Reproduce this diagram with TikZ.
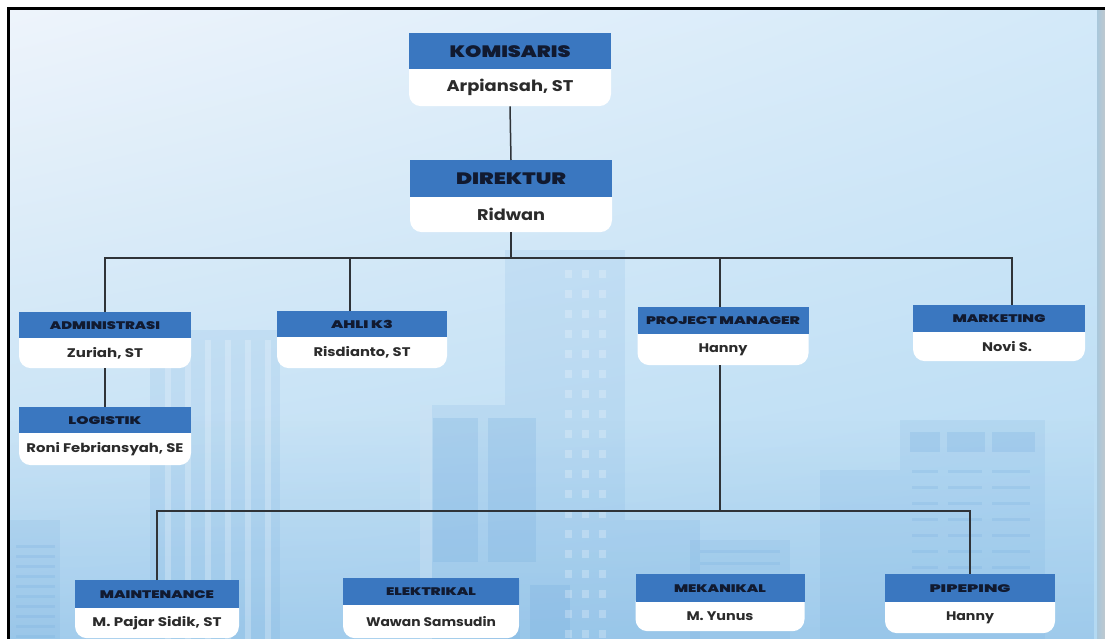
\documentclass[tikz,border=0pt]{standalone}
\usepackage{graphicx}
\usepackage{fontspec}
\usetikzlibrary{shadings,fadings}
\setmainfont{Poppins}
\newfontfamily\heavy{Poppins}[UprightFont=* Black]
\newfontfamily\semib{Poppins}[UprightFont=* Bold]

\definecolor{hdrblue}{HTML}{3A77C0}
\definecolor{navy}{HTML}{111A30}
\definecolor{namegray}{HTML}{2B2B2B}
\definecolor{lineC}{HTML}{2F3338}
\definecolor{bgUL}{HTML}{EEF4FB}
\definecolor{bgUR}{HTML}{D3E9F9}
\definecolor{bgLL}{HTML}{B9DCF3}
\definecolor{bgLR}{HTML}{B3D9F2}
\definecolor{bldg}{HTML}{6FA9DD}
\definecolor{bldgpale}{HTML}{F2F8FD}

% text helpers: font size sets the height, the box is stretched to the given width
\newcommand\tbig[2]{{\heavy\fontsize{16.5}{18}\selectfont\resizebox{#1pt}{\height}{#2}}}
\newcommand\tsmall[2]{{\heavy\fontsize{11}{12}\selectfont\resizebox{#1pt}{\height}{#2}}}
\newcommand\nbig[2]{{\semib\fontsize{15.5}{17}\selectfont\resizebox{#1pt}{\height}{#2}}}
\newcommand\nsmall[2]{{\semib\fontsize{12.5}{14}\selectfont\resizebox{#1pt}{\height}{#2}}}

\tikzset{
  hdr/.style={fill=hdrblue, anchor=north, inner sep=0pt, text=navy},
  bodybox/.style={fill=white, anchor=north, inner sep=0pt, rounded corners=12pt},
  nametext/.style={anchor=center, inner sep=0pt, text=namegray},
  link/.style={draw=lineC, line width=1.5pt},
}

% one unit: name, centre x, top y, width, header height, body height, title, person
\newcommand\orgunit[8]{%
  \node[bodybox, minimum width=#4pt, minimum height=#6pt+12pt] (#1-b) at (#2,#3+#5-12) {};
  \node[hdr, minimum width=#4pt, minimum height=#5pt] (#1) at (#2,#3) {#7};
  \node[nametext] (#1-n) at (#2,#3+#5+#6/2) {#8};
}

\begin{document}
\begin{tikzpicture}[x=1pt,y=-1pt]
\useasboundingbox (0,0) rectangle (1105,639);
\fill[white] (0,0) rectangle (1105,639);

% sky
\shade[upper left=bgUL, upper right=bgUR, lower left=bgLL, lower right=bgLR]
  (10,10) rectangle (1097,639);
\fill[left color=bgLR!80!gray, right color=bgLR!40!gray!60] (1097,10) rectangle (1105,639);
% denser haze towards the ground
\fill[bldg, opacity=0.3, path fading=north] (10,420) rectangle (1097,639);

% faded skyline
\begin{scope}[opacity=0.14]
  \fill[bldg] (505,250) rectangle (625,639);
  \fill[bldg] (420,405) rectangle (505,639);
  \fill[bldg] (150,330) rectangle (280,639);
  \fill[bldg] (900,420) rectangle (1045,639);
  \fill[bldg] (625,520) rectangle (700,639);
  \fill[bldg] (690,540) rectangle (790,639);
  \fill[bldg] (10,520) rectangle (60,639);
  \fill[bldg] (820,470) rectangle (900,639);
\end{scope}
\begin{scope}[opacity=0.22]
  \fill[bldg] (433,418) rectangle (478,562);
  \fill[bldg] (488,418) rectangle (536,562);
  \fill[bldg] (480,580) rectangle (520,639);
  \fill[bldg] (530,585) rectangle (570,639);
  \fill[bldg] (910,432) rectangle (940,452);
  \fill[bldg] (947,432) rectangle (985,452);
  \fill[bldg] (992,432) rectangle (1035,452);
\end{scope}
\begin{scope}[opacity=0.28, bldgpale]
  \foreach \yy in {270,290,...,630} {
    \fill (565,\yy) rectangle (572,\yy+8);
    \fill (582,\yy) rectangle (589,\yy+8);
    \fill (599,\yy) rectangle (606,\yy+8);
  }
  \foreach \xx in {165,185,...,265} \fill (\xx,340) rectangle (\xx+6,639);
  \fill (420,405) rectangle (432,639);
\end{scope}
\begin{scope}[opacity=0.2, bldg]
  \foreach \yy in {470,486,...,600} {
    \fill (912,\yy) rectangle (938,\yy+3);
    \fill (948,\yy) rectangle (982,\yy+3);
    \fill (992,\yy) rectangle (1030,\yy+3);
  }
  \foreach \yy in {545,555,...,635} \fill (16,\yy) rectangle (55,\yy+3);
  \foreach \yy in {550,562,...,600} \fill (700,\yy) rectangle (780,\yy+3);
\end{scope}

% frame
\draw[line width=2.6pt] (8.5,639) -- (8.5,8.5) -- (1105,8.5);

% units
\orgunit{kom}{510}{33}{202}{36}{37}{\tbig{121}{KOMISARIS}}{\nbig{127}{Arpiansah, ST}}
\orgunit{dir}{511}{160}{202}{37}{35}{\tbig{110}{DIREKTUR}}{\nbig{68}{Ridwan}}
\orgunit{adm}{105}{312}{172}{26}{30}{\tsmall{110}{ADMINISTRASI}}{\nsmall{76}{Zuriah, ST}}
\orgunit{log}{105}{407}{172}{26}{32}{\tsmall{73}{LOGISTIK}}{\nsmall{157}{Roni Febriansyah, SE}}
\orgunit{ahli}{362}{311}{170}{26}{31}{\tsmall{62}{AHLI K3}}{\nsmall{97}{Risdianto, ST}}
\orgunit{pm}{723}{307}{171}{27}{31}{\tsmall{154}{PROJECT MANAGER}}{\nsmall{49}{Hanny}}
\orgunit{mkt}{999}{305}{172}{27}{29}{\tsmall{93}{MARKETING}}{\hspace*{16pt}\nsmall{50}{Novi S.}}
\orgunit{mnt}{157}{580}{164}{28}{30}{\tsmall{114}{MAINTENANCE}}{\nsmall{129}{M. Pajar Sidik, ST}}
\orgunit{elk}{431}{578}{176}{27}{33}{\tsmall{90}{ELEKTRIKAL}}{\nsmall{130}{Wawan Samsudin}}
\orgunit{mek}{720}{574}{169}{28}{29}{\tsmall{92}{MEKANIKAL}}{\nsmall{67}{M. Yunus}}
\orgunit{pip}{970}{574}{170}{28}{31}{\tsmall{81}{PIPEPING}}{\nsmall{48}{Hanny}}

% connectors
\coordinate (busU) at (511,258);
\coordinate (busL) at (720,511);
\coordinate (ahliIn) at ([xshift=-12pt]ahli.north);
\coordinate (mktIn) at ([xshift=13pt]mkt.north);
\coordinate (pmIn) at ([xshift=-3pt]pm.north);
\coordinate (pmOut) at ([xshift=-3pt]pm-b.south);

\draw[link] (kom-b.south) -- (dir.north);
\draw[link] (dir-b.south) -- (busU);
\draw[link] (adm.north) |- (busU) -| (mktIn);
\draw[link] (ahliIn) -- (ahliIn |- busU);
\draw[link] (pmIn) -- (pmIn |- busU);
\draw[link] (adm-b.south) -- (log.north);
\draw[link] (pmOut) -- (pmOut |- busL);
\draw[link] (mnt.north) |- (busL) -| (pip.north);
\end{tikzpicture}
\end{document}
